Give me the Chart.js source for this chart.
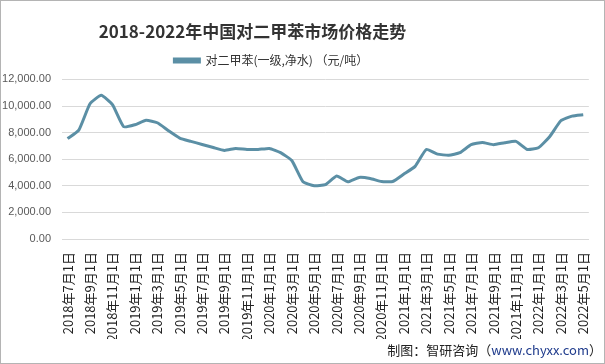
<!DOCTYPE html>
<html>
<head>
<meta charset="utf-8">
<script src="https://cdn.jsdelivr.net/npm/chart.js@4"></script>
<style>
  html, body { margin: 0; padding: 0; background: #fff; }
  #wrap { width: 603px; height: 362px; border: 1px solid #b4b4b4; position: relative; }
  canvas { display: block; }
</style>
</head>
<body>
<div id="wrap"><canvas id="chart" width="603" height="362"></canvas></div>
<script>
'use strict';

// ── Data ─────────────────────────────────────────────────────────────────────

const months = [
  '2018年7月1日', '2018年8月1日', '2018年9月1日', '2018年10月1日', '2018年11月1日', '2018年12月1日',
  '2019年1月1日', '2019年2月1日', '2019年3月1日', '2019年4月1日', '2019年5月1日', '2019年6月1日',
  '2019年7月1日', '2019年8月1日', '2019年9月1日', '2019年10月1日', '2019年11月1日', '2019年12月1日',
  '2020年1月1日', '2020年2月1日', '2020年3月1日', '2020年4月1日', '2020年5月1日', '2020年6月1日',
  '2020年7月1日', '2020年8月1日', '2020年9月1日', '2020年10月1日', '2020年11月1日', '2020年12月1日',
  '2021年1月1日', '2021年2月1日', '2021年3月1日', '2021年4月1日', '2021年5月1日', '2021年6月1日',
  '2021年7月1日', '2021年8月1日', '2021年9月1日', '2021年10月1日', '2021年11月1日', '2021年12月1日',
  '2022年1月1日', '2022年2月1日', '2022年3月1日', '2022年4月1日', '2022年5月1日',
];

const pxPrice = [
  7550, 8190, 10170, 10800, 10100, 8440,
  8590, 8920, 8740, 8140, 7590, 7340,
  7110, 6880, 6660, 6810, 6730, 6730,
  6810, 6490, 5900, 4300, 4000, 4080,
  4730, 4300, 4630, 4550, 4320, 4320,
  4880, 5460, 6730, 6380, 6300, 6490,
  7090, 7260, 7090, 7240, 7340, 6730,
  6860, 7690, 8890, 9240, 9340,
];

const TITLE = '2018-2022年中国对二甲苯市场价格走势';
const SERIES_NAME = '对二甲苯(一级,净水) （元/吨）';
const FOOTER_A = '制图：智研咨询（';
const FOOTER_B = 'www.chyxx.com';
const FOOTER_C = '）';

const LINE_COLOR = '#5b8fa5';
const CJK = '"Noto Sans CJK SC", "Liberation Sans", sans-serif';

// trailing ideographic spaces push the centred title/legend left, as in the source
const padRight = n => '\u3000'.repeat(n);

// ── Plugins ──────────────────────────────────────────────────────────────────

// a little more room under the legend than Chart.js gives by default
const legendGapPlugin = {
  id: 'legendGap',
  beforeLayout(chart) {
    const lg = chart.legend;
    if (!lg || lg._gapPatched) return;
    const fit = lg.fit.bind(lg);
    lg.fit = function () { fit(); this.height += 3; };
    lg._gapPatched = true;
  },
};

const footerPlugin = {
  id: 'footer',
  afterDraw(chart) {
    const ctx = chart.ctx;
    ctx.save();
    ctx.font = '13px ' + CJK;
    ctx.textBaseline = 'middle';
    ctx.textAlign = 'left';
    const y = chart.height - 13;
    const right = chart.width - 2;
    const wA = ctx.measureText(FOOTER_A).width;
    const wB = ctx.measureText(FOOTER_B).width;
    const wC = ctx.measureText(FOOTER_C).width;
    let x = right - wA - wB - wC;
    ctx.fillStyle = '#222';
    ctx.fillText(FOOTER_A, x, y);
    x += wA;
    ctx.fillStyle = '#1f3b8c';
    ctx.fillText(FOOTER_B, x, y);
    x += wB;
    ctx.fillStyle = '#222';
    ctx.fillText(FOOTER_C, x, y);
    ctx.restore();
  },
};

// ── Chart ────────────────────────────────────────────────────────────────────

new Chart(document.getElementById('chart').getContext('2d'), {
  type: 'line',
  data: {
    labels: months,
    datasets: [{
      label: SERIES_NAME + padRight(4) + '  ',
      data: pxPrice,
      borderColor: LINE_COLOR,
      backgroundColor: LINE_COLOR,
      borderWidth: 3,
      pointRadius: 0,
      tension: 0.15,
      fill: false,
    }],
  },
  plugins: [legendGapPlugin, footerPlugin],
  options: {
    responsive: false,
    animation: false,
    layout: { padding: { left: 0, right: 15, top: 0, bottom: 24 } },
    plugins: {
      title: {
        display: true,
        text: TITLE + padRight(5),
        color: '#333',
        font: { family: CJK, size: 17, weight: 'bold' },
        padding: { top: 20, bottom: 0 },
      },
      legend: {
        display: true,
        labels: {
          color: '#333',
          font: { family: CJK, size: 12 },
          boxWidth: 25,
          boxHeight: 3,
          padding: 13,
        },
      },
      tooltip: { enabled: false },
    },
    scales: {
      x: {
        offset: true,
        afterFit: scale => { scale.height = 100; },
        grid: { display: false },
        border: { display: true, color: '#d9d9d9' },
        ticks: {
          autoSkip: false,
          maxRotation: 90,
          minRotation: 90,
          color: '#222',
          padding: 5,
          font: { family: CJK, size: 13 },
          callback: function (v, i) { return i % 2 === 0 ? this.getLabelForValue(v) : ''; },
        },
      },
      y: {
        min: 0,
        max: 12000,
        afterFit: scale => { scale.width = 61; },
        border: { display: false },
        grid: { color: '#d9d9d9', drawTicks: false },
        ticks: {
          stepSize: 2000,
          color: '#595959',
          padding: 11,
          font: { family: '"Liberation Sans", Arial, sans-serif', size: 11 },
          callback: v => v.toLocaleString('en-US', { minimumFractionDigits: 2, maximumFractionDigits: 2 }),
        },
      },
    },
  },
});
</script>
</body>
</html>
